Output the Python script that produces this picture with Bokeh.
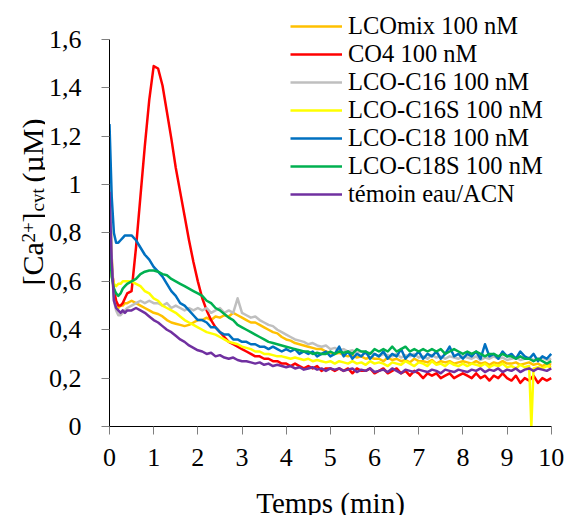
import math
from bokeh.plotting import figure
from bokeh.layouts import row, column
from bokeh.models import Range1d, FixedTicker, Legend, LegendItem, Label
from bokeh.embed import file_html
from bokeh.resources import INLINE

# ---------------- data ----------------
t = [0, 0.05, 0.1, 0.15, 0.2, 0.25, 0.3, 0.35, 0.4,
     0.5, 0.6, 0.7, 0.8, 0.9, 1.0,
     1.1, 1.2, 1.3, 1.4, 1.5, 1.6, 1.7, 1.8, 1.9, 2.0,
     2.1, 2.2, 2.3, 2.4, 2.5, 2.6, 2.7, 2.8, 2.9, 3.0,
     3.1, 3.2, 3.3, 3.4, 3.5, 3.6, 3.7, 3.8, 3.9, 4.0,
     4.1, 4.2, 4.3, 4.4, 4.5, 4.6, 4.7, 4.8, 4.9, 5.0,
     5.1, 5.2, 5.3, 5.4, 5.5, 5.6, 5.7, 5.8, 5.9, 6.0,
     6.1, 6.2, 6.3, 6.4, 6.5, 6.6, 6.7, 6.8, 6.9, 7.0,
     7.1, 7.2, 7.3, 7.4, 7.5, 7.6, 7.7, 7.8, 7.9, 8.0,
     8.1, 8.2, 8.3, 8.4, 8.5, 8.6, 8.7, 8.8, 8.9, 9.0,
     9.1, 9.2, 9.3, 9.4, 9.5, 9.55, 9.6, 9.7, 9.8, 9.9, 10.0]

lcomix = [1.04, 0.70, 0.54, 0.50, 0.49, 0.50, 0.50, 0.51, 0.51,
          0.52, 0.51, 0.50, 0.49, 0.48, 0.47,
          0.465, 0.455, 0.44, 0.43, 0.425, 0.42, 0.415, 0.42, 0.43, 0.44,
          0.44, 0.45, 0.44, 0.455, 0.45, 0.46, 0.455, 0.47, 0.46, 0.45,
          0.44, 0.43, 0.43, 0.42, 0.41, 0.40, 0.39, 0.385, 0.37, 0.36,
          0.355, 0.345, 0.34, 0.335, 0.33, 0.325, 0.32, 0.32, 0.31, 0.305,
          0.30, 0.305, 0.295, 0.29, 0.295, 0.285, 0.29, 0.28, 0.285, 0.28,
          0.28, 0.27, 0.285, 0.275, 0.28, 0.27, 0.275, 0.265, 0.28, 0.27,
          0.27, 0.265, 0.275, 0.26, 0.27, 0.265, 0.27, 0.26, 0.265, 0.27,
          0.265, 0.26, 0.27, 0.26, 0.265, 0.255, 0.265, 0.26, 0.27, 0.26,
          0.26, 0.265, 0.255, 0.26, 0.265, 0.26, 0.255, 0.26, 0.25, 0.26, 0.255]

co4 = [0.81, 0.66, 0.57, 0.52, 0.50, 0.50, 0.51, 0.53, 0.55,
       0.56, 0.74, 0.95, 1.16, 1.35, 1.49,
       1.48, 1.41, 1.30, 1.19, 1.07, 0.97, 0.87, 0.77, 0.68, 0.60,
       0.53, 0.48, 0.44, 0.41, 0.39, 0.37, 0.35, 0.34, 0.33, 0.32,
       0.31, 0.30, 0.29, 0.29, 0.28, 0.28, 0.27, 0.27, 0.26, 0.26,
       0.25, 0.26, 0.25, 0.24, 0.25, 0.24, 0.25, 0.23, 0.24, 0.24,
       0.23, 0.24, 0.23, 0.24, 0.22, 0.24, 0.23, 0.23, 0.24, 0.22,
       0.23, 0.24, 0.22, 0.23, 0.24, 0.22, 0.23, 0.21, 0.23, 0.22,
       0.20, 0.22, 0.21, 0.22, 0.20, 0.21, 0.22, 0.20, 0.21, 0.22,
       0.21, 0.20, 0.22, 0.20, 0.21, 0.19, 0.21, 0.20, 0.22, 0.20,
       0.19, 0.21, 0.18, 0.20, 0.19, 0.20, 0.21, 0.18, 0.20, 0.19, 0.20]

lco_c16 = [1.10, 0.70, 0.52, 0.48, 0.46, 0.46, 0.47, 0.48, 0.49,
           0.50, 0.51, 0.52, 0.51, 0.52, 0.51,
           0.51, 0.50, 0.51, 0.49, 0.50, 0.49, 0.48, 0.49, 0.48, 0.49,
           0.48, 0.49, 0.47, 0.48, 0.49, 0.47, 0.48, 0.47, 0.53, 0.47,
           0.46, 0.45, 0.455, 0.44, 0.43, 0.42, 0.415, 0.40, 0.39, 0.38,
           0.37, 0.36, 0.355, 0.35, 0.34, 0.345, 0.335, 0.33, 0.335, 0.32,
           0.325, 0.315, 0.32, 0.31, 0.315, 0.305, 0.31, 0.30, 0.305, 0.30,
           0.29, 0.30, 0.295, 0.29, 0.30, 0.285, 0.295, 0.29, 0.30, 0.285,
           0.29, 0.28, 0.295, 0.285, 0.29, 0.28, 0.29, 0.285, 0.28, 0.29,
           0.285, 0.28, 0.29, 0.275, 0.285, 0.28, 0.29, 0.28, 0.285, 0.275,
           0.28, 0.285, 0.275, 0.28, 0.285, 0.28, 0.275, 0.28, 0.285, 0.275, 0.28]

lco_c16s = [0.78, 0.62, 0.59, 0.58, 0.59, 0.59, 0.60, 0.60, 0.60,
            0.60, 0.59, 0.58, 0.56, 0.55, 0.53,
            0.52, 0.50, 0.49, 0.48, 0.47, 0.455, 0.44, 0.43, 0.42, 0.41,
            0.40, 0.39, 0.385, 0.38, 0.37, 0.36, 0.35, 0.345, 0.34, 0.33,
            0.325, 0.32, 0.31, 0.31, 0.30, 0.30, 0.295, 0.29, 0.29, 0.285,
            0.28, 0.285, 0.28, 0.275, 0.28, 0.27, 0.275, 0.27, 0.265, 0.27,
            0.26, 0.27, 0.265, 0.26, 0.27, 0.26, 0.265, 0.255, 0.27, 0.26,
            0.265, 0.26, 0.25, 0.265, 0.26, 0.255, 0.27, 0.26, 0.25, 0.265,
            0.26, 0.25, 0.27, 0.255, 0.26, 0.25, 0.265, 0.255, 0.25, 0.26,
            0.25, 0.26, 0.255, 0.25, 0.26, 0.245, 0.255, 0.25, 0.26, 0.245,
            0.25, 0.24, 0.255, 0.245, 0.25, 0.0, 0.24, 0.245, 0.24, 0.25, 0.245]

lco_c18 = [1.25, 0.95, 0.80, 0.76, 0.76, 0.77, 0.78, 0.79, 0.79,
           0.79, 0.77, 0.74, 0.71, 0.69, 0.66,
           0.64, 0.62, 0.59, 0.56, 0.54, 0.51, 0.50, 0.48, 0.46, 0.44,
           0.44, 0.43, 0.41, 0.41, 0.39, 0.38, 0.38, 0.36, 0.36, 0.35,
           0.35, 0.34, 0.34, 0.33, 0.33, 0.32, 0.33, 0.32, 0.31, 0.32,
           0.31, 0.32, 0.30, 0.31, 0.30, 0.31, 0.29, 0.30, 0.31, 0.29,
           0.30, 0.33, 0.29, 0.31, 0.28, 0.30, 0.29, 0.31, 0.28, 0.30,
           0.29, 0.31, 0.28, 0.30, 0.29, 0.32, 0.28, 0.30, 0.29, 0.31,
           0.28, 0.30, 0.29, 0.31, 0.28, 0.30, 0.33, 0.29, 0.30, 0.28,
           0.30, 0.29, 0.31, 0.28, 0.34, 0.29, 0.30, 0.28, 0.31, 0.29,
           0.30, 0.28, 0.31, 0.29, 0.28, 0.29, 0.30, 0.27, 0.29, 0.28, 0.30]

lco_c18s = [0.75, 0.62, 0.57, 0.55, 0.54, 0.55, 0.57, 0.58, 0.59,
            0.60, 0.61, 0.63, 0.64, 0.645, 0.645,
            0.64, 0.63, 0.625, 0.61, 0.60, 0.59, 0.58, 0.57, 0.56, 0.55,
            0.54, 0.52, 0.51, 0.49, 0.48, 0.465, 0.45, 0.44, 0.42, 0.41,
            0.40, 0.39, 0.38, 0.37, 0.36, 0.35, 0.345, 0.34, 0.335, 0.33,
            0.325, 0.32, 0.315, 0.31, 0.31, 0.30, 0.305, 0.30, 0.30, 0.31,
            0.30, 0.31, 0.305, 0.31, 0.30, 0.32, 0.31, 0.31, 0.30, 0.32,
            0.31, 0.32, 0.31, 0.33, 0.31, 0.32, 0.33, 0.31, 0.32, 0.31,
            0.32, 0.31, 0.32, 0.31, 0.32, 0.30, 0.31, 0.32, 0.31, 0.30,
            0.31, 0.30, 0.31, 0.30, 0.29, 0.30, 0.30, 0.29, 0.30, 0.29,
            0.29, 0.28, 0.29, 0.28, 0.28, 0.275, 0.27, 0.28, 0.27, 0.26, 0.27]

temoin = [0.97, 0.68, 0.52, 0.49, 0.48, 0.47, 0.48, 0.47, 0.48,
          0.48, 0.49, 0.48, 0.47, 0.455, 0.44,
          0.43, 0.415, 0.40, 0.39, 0.375, 0.36, 0.35, 0.335, 0.325, 0.315,
          0.31, 0.30, 0.305, 0.29, 0.295, 0.285, 0.28, 0.285, 0.275, 0.27,
          0.27, 0.265, 0.26, 0.265, 0.255, 0.26, 0.25, 0.255, 0.25, 0.245,
          0.25, 0.24, 0.245, 0.235, 0.24, 0.245, 0.235, 0.24, 0.23, 0.24,
          0.235, 0.24, 0.23, 0.235, 0.24, 0.225, 0.235, 0.23, 0.24, 0.225,
          0.23, 0.235, 0.225, 0.24, 0.23, 0.22, 0.235, 0.23, 0.225, 0.235,
          0.23, 0.225, 0.235, 0.23, 0.22, 0.235, 0.23, 0.225, 0.235, 0.23,
          0.225, 0.235, 0.23, 0.24, 0.225, 0.235, 0.23, 0.24, 0.225, 0.235,
          0.23, 0.24, 0.225, 0.235, 0.24, 0.235, 0.23, 0.24, 0.235, 0.23, 0.24]

series_names = ["LCOmix 100 nM", "CO4 100 nM", "LCO-C16 100 nM", "LCO-C16S 100 nM",
                "LCO-C18 100 nM", "LCO-C18S 100 nM", "témoin eau/ACN"]
series_values = [lcomix, co4, lco_c16, lco_c16s, lco_c18, lco_c18s, temoin]
series_colors = ["#FFC000", "#FF0000", "#BFBFBF", "#FFFF00", "#0070C0", "#00B050", "#7030A0"]

x_ticks = [0, 1, 2, 3, 4, 5, 6, 7, 8, 9, 10]
y_ticks = [0, 0.2, 0.4, 0.6, 0.8, 1.0, 1.2, 1.4, 1.6]
y_tick_labels = ["0", "0,2", "0,4", "0,6", "0,8", "1", "1,2", "1,4", "1,6"]

x_title = "Temps (min)"
# y title pieces: text, font size, baseline shift (px), start offset along the text (px)
y_title_parts = [("[Ca", "30px", 0, 0), ("2+", "19px", -4, 43), ("]", "30px", 0, 63),
                 ("cyt", "19px", 5, 74), ("(µM)", "30px", 0, 103)]

FONT = "Liberation Serif"

# ---------------- main plot ----------------
W_LEFT = 45
H_TOP = 474

p = figure(width=568 - W_LEFT, height=H_TOP, output_backend="svg", toolbar_location=None,
           x_range=Range1d(0, 10.391), y_range=Range1d(0, 1.7612), frame_align=False,
           min_border_left=63, min_border_right=0, min_border_top=0, min_border_bottom=48)
p.outline_line_color = None
p.xgrid.grid_line_color = None
p.ygrid.grid_line_color = None
p.background_fill_color = "white"
p.border_fill_color = "white"

renderers = []
for name, vals, col in zip(series_names, series_values, series_colors):
    r = p.line(t, vals, line_color=col, line_width=2.5, line_join="round")
    renderers.append(r)

for ax in (p.xaxis[0], p.yaxis[0]):
    ax.axis_line_color = "#000000"
    ax.axis_line_width = 1
    ax.major_tick_line_color = "#7F7F7F"
    ax.major_tick_line_width = 1
    ax.major_tick_out = 8
    ax.major_tick_in = 0
    ax.minor_tick_line_color = None
    ax.major_label_text_font = FONT
    ax.major_label_text_font_size = "26px"
    ax.major_label_text_color = "#000000"
    ax.axis_label = None

p.xaxis[0].ticker = FixedTicker(ticks=x_ticks)
p.xaxis[0].bounds = (0, 10)
p.xaxis[0].major_label_standoff = 14
p.yaxis[0].ticker = FixedTicker(ticks=y_ticks)
p.yaxis[0].bounds = (0, 1.6)
p.yaxis[0].major_label_overrides = {v: s for v, s in zip(y_ticks, y_tick_labels)}
p.yaxis[0].major_label_standoff = 20

legend = Legend(items=[LegendItem(label=n, renderers=[r]) for n, r in zip(series_names, renderers)],
                location=(181, 218), orientation="vertical",
                glyph_width=52, glyph_height=28, label_height=28, label_standoff=6,
                spacing=-1, padding=0, margin=0,
                label_text_font=FONT, label_text_font_size="24.5px", label_text_color="#000000",
                background_fill_alpha=0, border_line_alpha=0)
p.add_layout(legend)

# ---------------- y title strip ----------------
ylab = figure(width=W_LEFT, height=H_TOP, output_backend="svg", toolbar_location=None,
              x_range=Range1d(0, 1), y_range=Range1d(0, 1), frame_align=False,
              x_axis_location=None, y_axis_location=None, min_border=0,
              min_border_left=0, min_border_right=0, min_border_top=0, min_border_bottom=0)
ylab.outline_line_color = None
ylab.background_fill_color = "white"
ylab.border_fill_color = "white"
ylab.xgrid.visible = False
ylab.ygrid.visible = False
for txt, fs, dx, start in y_title_parts:
    ylab.add_layout(Label(x=32 + dx, y=189 + start, x_units="screen", y_units="screen",
                          text=txt, angle=math.pi / 2, text_font=FONT, text_font_size=fs,
                          text_align="left", text_baseline="alphabetic", text_color="#000000"))

# ---------------- x title strip ----------------
xlab = figure(width=568, height=515 - H_TOP, output_backend="svg", toolbar_location=None,
              x_range=Range1d(0, 1), y_range=Range1d(0, 1), frame_align=False,
              x_axis_location=None, y_axis_location=None, min_border=0,
              min_border_left=0, min_border_right=0, min_border_top=0, min_border_bottom=0)
xlab.outline_line_color = None
xlab.background_fill_color = "white"
xlab.border_fill_color = "white"
xlab.xgrid.visible = False
xlab.ygrid.visible = False
xlab.add_layout(Label(x=330, y=13, x_units="screen", y_units="screen", text=x_title,
                      text_font=FONT, text_font_size="29px", text_align="center",
                      text_baseline="alphabetic", text_color="#000000"))

layout = column(row(ylab, p, spacing=0), xlab, spacing=0)

open("out.html", "w").write(file_html(layout, INLINE))
